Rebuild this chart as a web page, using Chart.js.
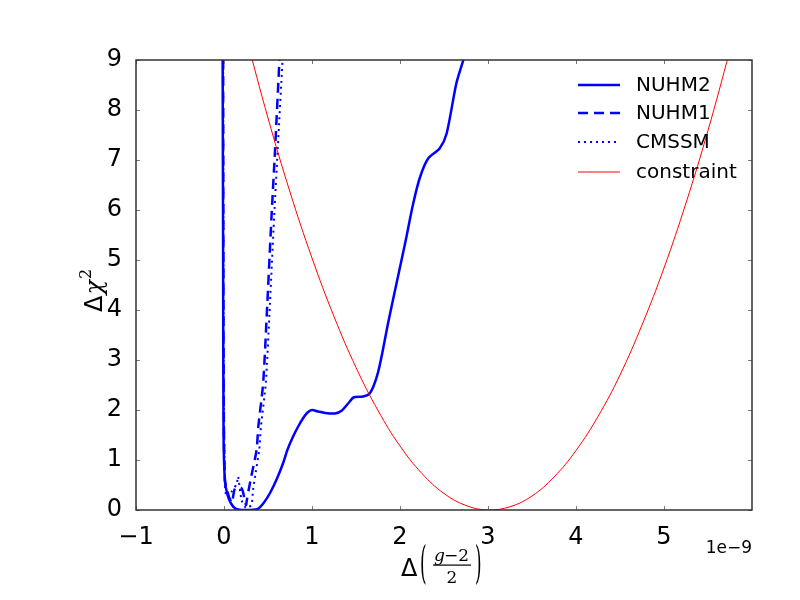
<!DOCTYPE html>
<html>
<head>
<meta charset="UTF-8">
<title>Delta chi2 vs g-2</title>
<script src="https://cdn.jsdelivr.net/npm/chart.js@4/dist/chart.umd.min.js"></script>
<style>
  html, body { margin:0; padding:0; background:#fff; }
  #wrap { width:800px; height:600px; }
</style>
</head>
<body>
<div id="wrap"><canvas id="chart" width="800" height="600"></canvas></div>
<script>
// values (x in units of 1e-9)
const nuhm2X = [-0.015, -0.01, -0.005, 0.01, 0.04, 0.08, 0.13, 0.2, 0.3, 0.39, 0.45, 0.52, 0.6, 0.67, 0.72, 0.78, 0.84, 0.9, 0.95, 1.0, 1.07, 1.15, 1.26, 1.34, 1.42, 1.47, 1.58, 1.65, 1.70, 1.75, 1.80, 1.86, 1.96, 2.06, 2.15, 2.23, 2.32, 2.45, 2.53, 2.64, 2.72];
const nuhm2Y = [9.0, 5.0, 1.5, 0.6, 0.3, 0.13, 0.03, 0.0, 0.0, 0.03, 0.14, 0.33, 0.62, 0.93, 1.2, 1.45, 1.66, 1.84, 1.95, 2.0, 1.97, 1.94, 1.93, 1.99, 2.15, 2.25, 2.27, 2.32, 2.48, 2.75, 3.15, 3.7, 4.53, 5.35, 6.13, 6.67, 7.03, 7.23, 7.53, 8.53, 9.0];

const nuhm1X = [-0.01, -0.005, 0.01, 0.05, 0.09, 0.125, 0.2, 0.23, 0.25, 0.26, 0.28, 0.31, 0.37, 0.39, 0.445, 0.485, 0.54, 0.58, 0.63];
const nuhm1Y = [9.0, 3.0, 0.6, 0.3, 0.15, 0.43, 0.43, 0.25, 0.1, 0.2, 0.4, 0.67, 1.2, 1.67, 2.54, 3.87, 5.87, 7.2, 9.0];

const cmssmX = [-0.01, -0.005, 0.01, 0.03, 0.08, 0.145, 0.16, 0.2, 0.25, 0.31, 0.33, 0.36, 0.4, 0.42, 0.475, 0.515, 0.57, 0.61, 0.665];
const cmssmY = [9.0, 3.0, 0.54, 0.26, 0.35, 0.53, 0.67, 0.2, 0.04, 0.1, 0.4, 0.75, 1.2, 1.67, 2.54, 3.87, 5.87, 7.2, 9.0];

const constraintX = [0.25, 0.5, 0.75, 1.0, 1.25, 1.5, 1.75, 2.0, 2.25, 2.5, 2.75, 3.0, 3.25, 3.5, 3.75, 4.0, 4.25, 4.5, 4.75, 5.0, 5.25, 5.5, 5.75, 5.8];
const constraintY = [9.47, 7.84, 6.36, 5.04, 3.87, 2.85, 1.99, 1.28, 0.73, 0.33, 0.09, 0.0, 0.065, 0.28, 0.66, 1.19, 1.87, 2.70, 3.70, 4.84, 6.14, 7.59, 9.20, 9.54];

const xTicks = [-1, 0, 1, 2, 3, 4, 5];
const yTicks = [0, 1, 2, 3, 4, 5, 6, 7, 8, 9];

function pts(xs, ys){ return xs.map((x,i)=>({x:x, y:ys[i]})); }

const blue = '#0000ff';
const red = '#ff0000';

const extras = {
  id:'extras',
  afterDraw(chart){
    const ctx = chart.ctx;
    const a = chart.chartArea;
    const xs = chart.scales.x, ys = chart.scales.y;
    ctx.save();
    // inward ticks on all sides
    ctx.strokeStyle = '#777';
    ctx.lineWidth = 1;
    ctx.beginPath();
    for(const t of xTicks){
      const px = Math.round(xs.getPixelForValue(t)) + 0.5;
      ctx.moveTo(px, a.bottom); ctx.lineTo(px, a.bottom - 4);
      ctx.moveTo(px, a.top); ctx.lineTo(px, a.top + 4);
    }
    for(const t of yTicks){
      const py = Math.round(ys.getPixelForValue(t)) + 0.5;
      ctx.moveTo(a.left, py); ctx.lineTo(a.left + 4, py);
      ctx.moveTo(a.right, py); ctx.lineTo(a.right - 4, py);
    }
    ctx.stroke();
    // frame
    ctx.strokeStyle = '#333';
    ctx.lineWidth = 1.5;
    ctx.strokeRect(a.left, a.top, a.right - a.left, a.bottom - a.top);

    // legend
    const lx0 = 578, lx1 = 620, tx = 636;
    const rows = [85, 113, 142, 172];
    ctx.font = '20px "DejaVu Sans"';
    ctx.textBaseline = 'middle';
    ctx.textAlign = 'left';
    chart.data.datasets.forEach((ds, i) => {
      const y = rows[i];
      ctx.strokeStyle = ds.borderColor;
      ctx.lineWidth = ds.borderWidth;
      ctx.setLineDash(ds.borderDash || []);
      ctx.beginPath();
      ctx.moveTo(lx0, y); ctx.lineTo(lx1, y);
      ctx.stroke();
      ctx.setLineDash([]);
      ctx.fillStyle = '#000';
      ctx.fillText(ds.label, tx, y + 1);
    });

    // x axis title: Delta((g-2)/2)
    ctx.fillStyle = '#000';
    ctx.textBaseline = 'alphabetic';
    ctx.font = '24px "DejaVu Sans"';
    ctx.fillText('Δ', 401, 576);
    ctx.save();
    ctx.font = '26px "DejaVu Serif"';
    ctx.translate(420, 578);
    ctx.scale(0.65, 1.7);
    ctx.fillText('(', 0, 0);
    ctx.restore();
    ctx.save();
    ctx.font = '26px "DejaVu Serif"';
    ctx.translate(475, 578);
    ctx.scale(0.65, 1.7);
    ctx.fillText(')', 0, 0);
    ctx.restore();
    ctx.font = 'italic 17px "DejaVu Serif"';
    ctx.fillText('g', 434, 561);
    ctx.font = '17px "DejaVu Serif"';
    ctx.fillText('−2', 444, 561);
    ctx.fillRect(433, 564.5, 38, 1.2);
    ctx.textAlign = 'center';
    ctx.fillText('2', 452, 583);

    // offset label
    ctx.font = '17px "DejaVu Sans"';
    ctx.textAlign = 'right';
    ctx.fillText('1e−9', 752, 553);

    // y axis title: Delta chi^2
    ctx.save();
    ctx.translate(102, 312);
    ctx.rotate(-Math.PI/2);
    ctx.textAlign = 'left';
    ctx.font = '24px "DejaVu Sans"';
    ctx.fillText('Δ', 0, 0);
    const w1 = ctx.measureText('Δ').width;
    ctx.font = 'italic 24px "DejaVu Serif"';
    ctx.fillText('χ', w1 + 1, 0);
    const w2 = ctx.measureText('χ').width;
    ctx.font = '16px "DejaVu Serif"';
    ctx.fillText('2', w1 + w2 + 2, -11);
    ctx.restore();

    ctx.restore();
  }
};

new Chart(document.getElementById('chart'), {
  type:'scatter',
  data:{
    datasets:[
      { label:'NUHM2', data:pts(nuhm2X, nuhm2Y), showLine:true, borderColor:blue, borderWidth:2.5, pointRadius:0, tension:0.25, clip:0, order:3 },
      { label:'NUHM1', data:pts(nuhm1X, nuhm1Y), showLine:true, borderColor:blue, borderWidth:2.5, borderDash:[10,6], pointRadius:0, tension:0.25, clip:0, order:2 },
      { label:'CMSSM', data:pts(cmssmX, cmssmY), showLine:true, borderColor:blue, borderWidth:2, borderDash:[2,4], pointRadius:0, tension:0.25, clip:0, order:1 },
      { label:'constraint', data:pts(constraintX, constraintY), showLine:true, borderColor:red, borderWidth:1, pointRadius:0, tension:0.4, clip:0, order:0 }
    ]
  },
  options:{
    responsive:false,
    animation:false,
    layout:{ padding:{ top:60, right:48, left:0, bottom:0 } },
    plugins:{ legend:{ display:false }, tooltip:{ enabled:false } },
    scales:{
      x:{
        type:'linear', min:-1, max:6,
        grid:{ display:false }, border:{ display:false },
        afterFit(s){ s.height = 90; },
        afterBuildTicks(s){ s.ticks = xTicks.map(v=>({value:v})); },
        ticks:{ padding:5, color:'#000', font:{ family:'DejaVu Sans', size:24 },
          callback:(v)=>String(v).replace('-', '−') }
      },
      y:{
        type:'linear', min:0, max:9,
        grid:{ display:false }, border:{ display:false },
        afterFit(s){ s.width = 136; },
        afterBuildTicks(s){ s.ticks = yTicks.map(v=>({value:v})); },
        ticks:{ padding:6, color:'#000', font:{ family:'DejaVu Sans', size:24 } }
      }
    }
  },
  plugins:[extras]
});
</script>
</body>
</html>
